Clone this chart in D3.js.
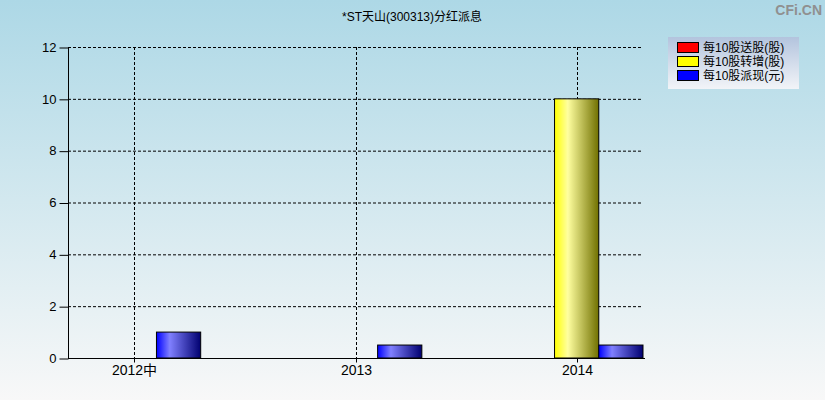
<!DOCTYPE html>
<html><head><meta charset="utf-8">
<script src="https://cdn.jsdelivr.net/npm/d3@7"></script>
<style>body{margin:0;padding:0;overflow:hidden}svg{display:block}</style>
</head><body>
<script>
const title = "*ST天山(300313)分红派息";
const categories = ["2012中", "2013", "2014"];
const seriesNames = ["每10股送股(股)", "每10股转增(股)", "每10股派现(元)"];
const songGu = [0, 0, 0];
const zhuanZeng = [0, 0, 10];
const paiXian = [1, 0.5, 0.5];
const yTicks = [0, 2, 4, 6, 8, 10, 12];

const W = 825, H = 400;
const pL = 68, pR = 643, pT = 47, pB = 358;
const font = "'Liberation Sans','Noto Sans CJK SC',sans-serif";

const svg = d3.select("body").append("svg").attr("width", W).attr("height", H);
const defs = svg.append("defs");
const bg = defs.append("linearGradient").attr("id","bg").attr("x1",0).attr("y1",0).attr("x2",0).attr("y2",1);
bg.append("stop").attr("offset","0%").attr("stop-color","#add8e6");
bg.append("stop").attr("offset","100%").attr("stop-color","#f8f8f8");
const lg = defs.append("linearGradient").attr("id","lg").attr("x1",0).attr("y1",0).attr("x2",0).attr("y2",1);
lg.append("stop").attr("offset","0%").attr("stop-color","#b3c4de");
lg.append("stop").attr("offset","100%").attr("stop-color","#f2f4f8");
function barGrad(id, base, light, dark){
  const g = defs.append("linearGradient").attr("id",id).attr("x1",0).attr("y1",0).attr("x2",1).attr("y2",0);
  g.append("stop").attr("offset","0%").attr("stop-color",base);
  g.append("stop").attr("offset","30%").attr("stop-color",light);
  g.append("stop").attr("offset","100%").attr("stop-color",dark);
}
barGrad("gr","#ff0000","#ff8080","#800000");
barGrad("gy","#ffff00","#ffffa0","#707000");
barGrad("gb","#0000ff","#8080ff","#000070");
const fills = ["url(#gr)","url(#gy)","url(#gb)"];
const swatch = ["#ff0000","#ffff00","#0000ff"];

svg.append("rect").attr("width",W).attr("height",H).attr("fill","url(#bg)");

svg.append("text").attr("x",412).attr("y",21).attr("text-anchor","middle")
  .attr("font-family",font).attr("font-size",12).attr("fill","#000").text(title);
svg.append("text").attr("x",822).attr("y",15).attr("text-anchor","end")
  .attr("font-family",font).attr("font-size",14).attr("font-weight","bold").attr("fill","#909090").text("CFi.CN");

const nb = 3;
const bw = (pR-pL)/13;
const x = d3.scalePoint().domain(categories).range([pL + nb*bw/2, pR - nb*bw/2]);
const y = d3.scaleLinear().domain([0,12]).range([pB, pT]);

// grid
const g = svg.append("g");
g.selectAll("line.h").data(yTicks.filter(d=>d>0)).enter().append("line")
  .attr("x1",pL).attr("x2",pR).attr("y1",d=>y(d)+0.5).attr("y2",d=>y(d)+0.5)
  .attr("stroke","#000").attr("stroke-dasharray","3,2");
g.selectAll("line.v").data(categories).enter().append("line")
  .attr("x1",d=>Math.round(x(d))+0.5).attr("x2",d=>Math.round(x(d))+0.5).attr("y1",pT).attr("y2",pB)
  .attr("stroke","#000").attr("stroke-dasharray","3,2");

// bars
const series = [songGu, zhuanZeng, paiXian];
series.forEach((vals, si) => {
  svg.append("g").selectAll("rect").data(vals.map((v,i)=>({v, c:categories[i]})).filter(d=>d.v>0))
    .enter().append("rect")
    .attr("x", d => x(d.c) - nb*bw/2 + si*bw)
    .attr("y", d => y(d.v))
    .attr("width", bw).attr("height", d => pB - y(d.v))
    .attr("fill", fills[si]).attr("stroke","#000").attr("stroke-width",1);
});

// axes
const yAxis = svg.append("g").attr("transform",`translate(${pL+0.5},0)`)
  .call(d3.axisLeft(y).tickValues(yTicks).tickSize(9).tickPadding(3).tickFormat(d3.format("d")));
yAxis.select(".domain").attr("stroke","#000").attr("d",`M0,${pT}V${pB}`);
yAxis.selectAll("line").attr("transform","translate(0,0.5)");
yAxis.selectAll("text").attr("font-family",font).attr("font-size",13).attr("fill","#000");
const xAxis = svg.append("g").attr("transform",`translate(0,${pB+0.5})`)
  .call(d3.axisBottom(x).tickSize(4).tickPadding(3));
xAxis.select(".domain").attr("stroke","#000").attr("d",`M${pL},0H${pR+2}`);
xAxis.selectAll(".tick").attr("transform",d=>`translate(${Math.round(x(d))+0.5},0)`);
xAxis.selectAll("text").attr("font-family",font).attr("font-size",14).attr("fill","#000");

// legend
const L = svg.append("g").attr("transform","translate(668,37)");
L.append("rect").attr("width",131).attr("height",52).attr("fill","url(#lg)");
seriesNames.forEach((n,i)=>{
  L.append("rect").attr("x",9.5).attr("y",5.5+i*14).attr("width",21).attr("height",10)
    .attr("fill",swatch[i]).attr("stroke","#000");
  L.append("text").attr("x",35).attr("y",15+i*14).attr("font-family",font).attr("font-size",12)
    .attr("fill","#000").text(n);
});
</script>
</body></html>
